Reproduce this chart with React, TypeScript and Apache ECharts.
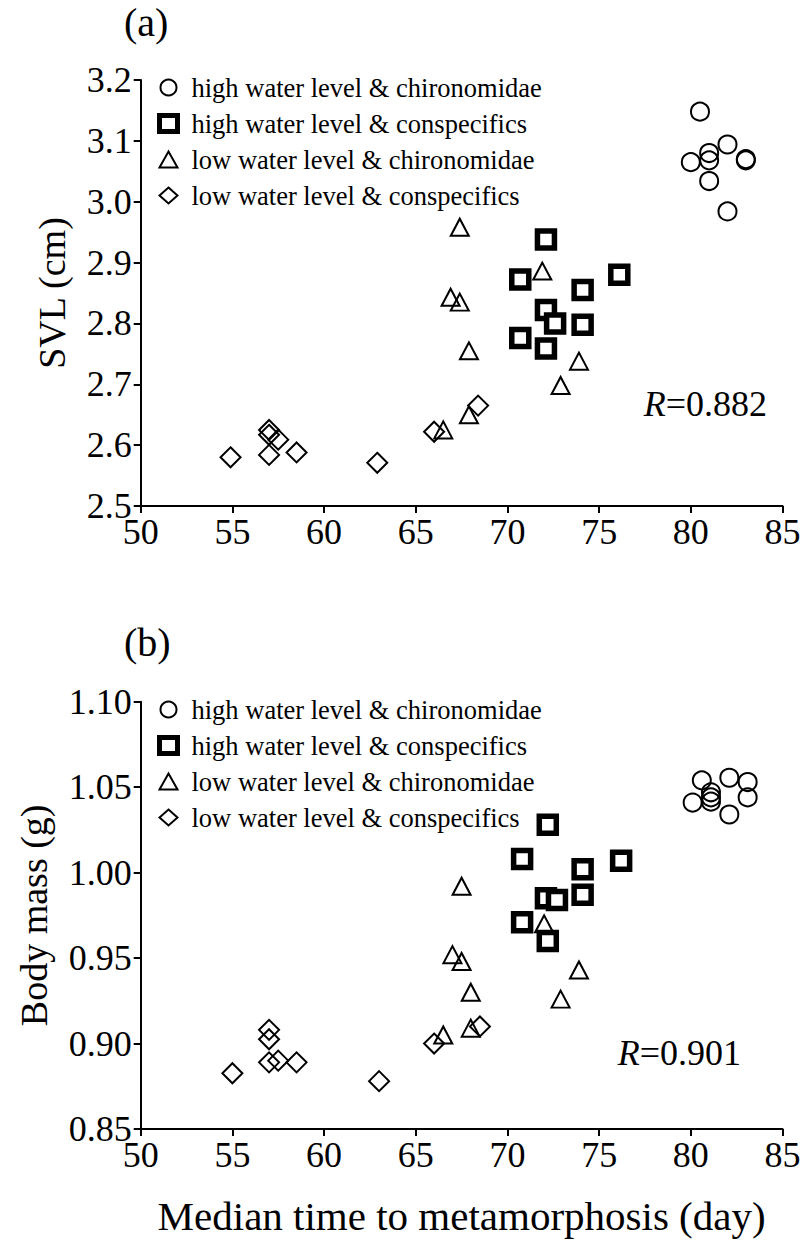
import React, { useEffect, useRef } from "react";
import * as echarts from "echarts";

const seriesNames = [
  "high water level & chironomidae",
  "high water level & conspecifics",
  "low water level & chironomidae",
  "low water level & conspecifics",
];

const xTicks = [50, 55, 60, 65, 70, 75, 80, 85];
const yTicksA = [2.5, 2.6, 2.7, 2.8, 2.9, 3.0, 3.1, 3.2];
const yTicksB = [0.85, 0.9, 0.95, 1.0, 1.05, 1.1];

// Panel (a): SVL (cm)
const highChiroA = [[80.5, 3.148], [82, 3.094], [81, 3.08], [81, 3.068], [80, 3.065], [83, 3.07], [83, 3.068], [81, 3.034], [82, 2.984]];
const highConspA = [[72.1, 2.938], [70.7, 2.872], [76.1, 2.88], [74.1, 2.855], [72.1, 2.822], [72.6, 2.8], [74.1, 2.798], [70.7, 2.776], [72.1, 2.759]];
const lowChiroA = [[67.4, 2.958], [71.9, 2.886], [66.9, 2.843], [67.4, 2.835], [67.9, 2.755], [73.9, 2.738], [72.9, 2.698], [67.9, 2.65], [66.5, 2.625]];
const lowConspA = [[54.9, 2.58], [57, 2.625], [57, 2.617], [57.5, 2.609], [57, 2.584], [58.5, 2.588], [62.9, 2.571], [66, 2.622], [68.4, 2.665]];

// Panel (b): Body mass (g)
const highChiroB = [[80.6, 1.054], [82.1, 1.0555], [83.1, 1.053], [83.1, 1.044], [80.1, 1.041], [81.1, 1.047], [81.1, 1.044], [81.1, 1.0415], [82.1, 1.034]];
const highConspB = [[72.2, 1.028], [70.8, 1.008], [76.2, 1.007], [74.1, 1.002], [72.1, 0.985], [72.7, 0.984], [74.1, 0.987], [70.8, 0.971], [72.2, 0.96]];
const lowChiroB = [[67.5, 0.992], [72, 0.97], [67, 0.952], [67.5, 0.948], [68, 0.93], [73.9, 0.943], [72.9, 0.926], [68, 0.909], [66.5, 0.905]];
const lowConspB = [[57, 0.908], [57, 0.9025], [57, 0.889], [57.5, 0.89], [58.5, 0.889], [55, 0.8826], [68.5, 0.91], [66, 0.9], [63, 0.878]];

const rA = "0.882";
const rB = "0.901";

const FONT = '"Liberation Serif", "Times New Roman", serif';

const symbolDefs = [
  { symbol: "circle", size: 18, itemStyle: { color: "rgba(255,255,255,0)", borderColor: "#000", borderWidth: 2, opacity: 1 }, legendStyle: { borderWidth: 2 } },
  { symbol: "rect", size: 17, itemStyle: { color: "#fff", borderColor: "#000", borderWidth: 5.5, opacity: 1 }, legendStyle: { borderWidth: 5 } },
  { symbol: "triangle", size: [18, 17], itemStyle: { color: "rgba(255,255,255,0)", borderColor: "#000", borderWidth: 2, opacity: 1 }, legendStyle: { borderWidth: 2 } },
  { symbol: "diamond", size: 20, itemStyle: { color: "rgba(255,255,255,0)", borderColor: "#000", borderWidth: 2, opacity: 1 }, legendStyle: { borderWidth: 2 } },
];

export default function App() {
  const ref = useRef<HTMLDivElement>(null);
  useEffect(() => {
    if (!ref.current) return;
    const chart = echarts.init(ref.current, null, { renderer: "svg" });
    const panelA = [highChiroA, highConspA, lowChiroA, lowConspA];
    const panelB = [highChiroB, highConspB, lowChiroB, lowConspB];
    const series: any[] = [];
    [panelA, panelB].forEach((panel, gi) => {
      panel.forEach((data, si) => {
        const d = symbolDefs[si];
        series.push({
          type: "scatter",
          name: seriesNames[si],
          xAxisIndex: gi,
          yAxisIndex: gi,
          symbol: d.symbol,
          symbolSize: d.size,
          itemStyle: d.itemStyle,
          emphasis: { disabled: true },
          data,
        });
      });
    });
    const axisLine = { show: true, lineStyle: { color: "#000", width: 2 } };
    const axisTick = { show: true, length: 7, lineStyle: { color: "#000", width: 2 } };
    const labelStyle = { color: "#000", fontFamily: FONT, fontSize: 36 };
    const mkX = (gi: number, name: string) => ({
      type: "value",
      gridIndex: gi,
      min: xTicks[0],
      max: xTicks[xTicks.length - 1],
      interval: 5,
      axisLine,
      axisTick,
      splitLine: { show: false },
      axisLabel: { ...labelStyle, margin: 8 },
      name,
      nameLocation: "middle",
      nameGap: 66,
      nameTextStyle: { color: "#000", fontFamily: FONT, fontSize: 41 },
    });
    const legendBase = {
      orient: "vertical",
      left: 152,
      itemWidth: 18,
      itemHeight: 16,
      itemGap: 9,
      selectedMode: false,
      textStyle: { color: "#000", fontFamily: FONT, fontSize: 26.5, lineHeight: 25.5, padding: [0, 0, 0, 9] },
      data: seriesNames.map((n, i) => ({ name: n, icon: symbolDefs[i].symbol, itemStyle: symbolDefs[i].legendStyle })),
    };
    chart.setOption({
      animation: false,
      backgroundColor: "#fff",
      grid: [
        { left: 140.7, top: 80, width: 641.8, height: 426 },
        { left: 140.7, top: 701.7, width: 641.8, height: 427.3 },
      ],
      legend: [
        { ...legendBase, top: 69 },
        { ...legendBase, top: 691 },
      ],
      xAxis: [mkX(0, ""), mkX(1, "Median time to metamorphosis (day)")],
      yAxis: [
        {
          type: "value",
          gridIndex: 0,
          min: yTicksA[0],
          max: yTicksA[yTicksA.length - 1],
          interval: 0.1,
          axisLine,
          axisTick,
          splitLine: { show: false },
          axisLabel: { ...labelStyle, margin: 9, formatter: (v: number) => v.toFixed(1) },
          name: "SVL (cm)",
          nameLocation: "middle",
          nameGap: 70,
          nameTextStyle: { color: "#000", fontFamily: FONT, fontSize: 38 },
        },
        {
          type: "value",
          gridIndex: 1,
          min: yTicksB[0],
          max: yTicksB[yTicksB.length - 1],
          interval: 0.05,
          axisLine,
          axisTick,
          splitLine: { show: false },
          axisLabel: { ...labelStyle, margin: 9, formatter: (v: number) => v.toFixed(2) },
          name: "Body mass (g)",
          nameLocation: "middle",
          nameGap: 88,
          nameTextStyle: { color: "#000", fontFamily: FONT, fontSize: 38 },
        },
      ],
      graphic: [
        { type: "text", style: { text: "(a)", x: 124, y: 22, fontFamily: FONT, fontSize: 40, fill: "#000", verticalAlign: "middle" } },
        { type: "text", style: { text: "(b)", x: 124, y: 642, fontFamily: FONT, fontSize: 40, fill: "#000", verticalAlign: "middle" } },
        {
          type: "text",
          style: {
            text: "{i|R}=" + rA, x: 767, y: 404, align: "right", verticalAlign: "middle",
            fontFamily: FONT, fontSize: 36, fill: "#000",
            rich: { i: { fontStyle: "italic", fontFamily: FONT, fontSize: 36, fill: "#000" } },
          },
        },
        {
          type: "text",
          style: {
            text: "{i|R}=" + rB, x: 741, y: 1053, align: "right", verticalAlign: "middle",
            fontFamily: FONT, fontSize: 36, fill: "#000",
            rich: { i: { fontStyle: "italic", fontFamily: FONT, fontSize: 36, fill: "#000" } },
          },
        },
      ],
      series,
    });
    return () => chart.dispose();
  }, []);
  return <div ref={ref} style={{ position: "absolute", left: 0, top: 0, width: 806, height: 1247 }} />;
}
